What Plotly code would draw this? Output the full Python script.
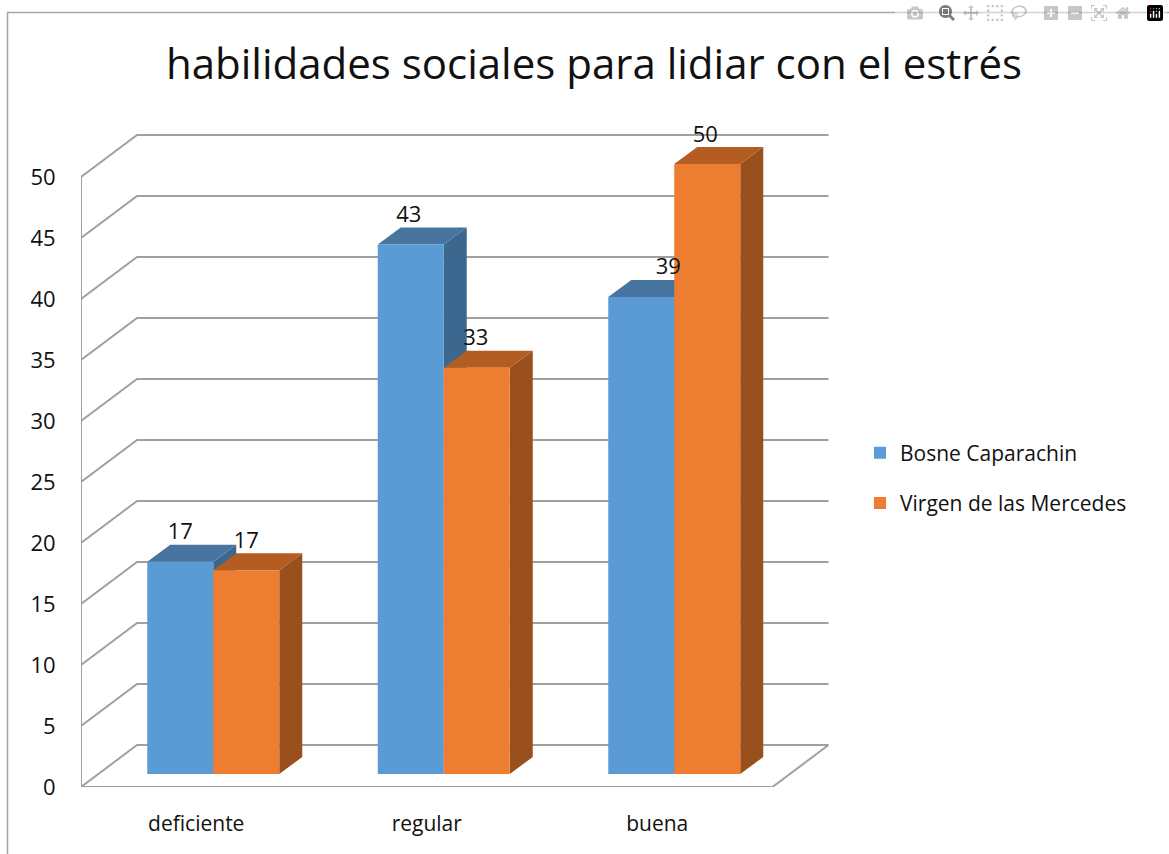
import plotly.graph_objects as go

categories = ["deficiente", "regular", "buena"]
series_names = ["Bosne Caparachin", "Virgen de las Mercedes"]
bosne_values = [17.4, 43.4, 39.1]
virgen_values = [16.7, 33.3, 50.0]
bosne_labels = ["17", "43", "39"]
virgen_labels = ["17", "33", "50"]
y_ticks = [0, 5, 10, 15, 20, 25, 30, 35, 40, 45, 50]

# geometry of the pseudo-3D box, in axis units
WIDTH, HEIGHT = 1169, 854
L, R, T, B = 81, 830, 134, 787
PX_X = 230.5   # pixels per category
PX_Y = 12.2    # pixels per value unit
X0 = -0.5
X1 = 2.5
WALL_DX = 56 / PX_X
WALL_DY = 42 / PX_Y
BAR_W = 66 / PX_X
BAR_DX = 23 / PX_X
BAR_DY = 17 / PX_Y
BAR_BASE = 13 / PX_Y
GROUP_LEFT = -0.2126
LABEL_UP = 28 / PX_Y
GRID = "#a0a0a0"
FONT = "Open Sans"
BLUE = ("#5b9bd5", "#3c6890", "#47759f")
ORANGE = ("#ed7d31", "#9a501c", "#b45d22")


def path(points):
    return "M" + "L".join(f"{x:.4f},{y:.4f}" for x, y in points) + "Z"


def seg(points):
    return "M" + "L".join(f"{x:.4f},{y:.4f}" for x, y in points)


shapes = []
for v in y_ticks:
    shapes.append(dict(type="path", xref="x", yref="y", layer="below",
                       path=seg([(X0, v), (X0 + WALL_DX, v + WALL_DY), (X1 + WALL_DX, v + WALL_DY)]),
                       line=dict(color=GRID, width=2)))
shapes.append(dict(type="path", xref="x", yref="y", layer="below",
                   path=seg([(X0, y_ticks[-1]), (X0, 0), (X1, 0), (X1 + WALL_DX, WALL_DY)]),
                   line=dict(color=GRID, width=2)))


def faces(lefts, values, cols):
    for xl, v in zip(lefts, values):
        xr = xl + BAR_W
        top = BAR_BASE + v
        shapes.append(dict(type="path", xref="x", yref="y", layer="below", line=dict(width=0), fillcolor=cols[1],
                           path=path([(xr, BAR_BASE), (xr + BAR_DX, BAR_BASE + BAR_DY),
                                      (xr + BAR_DX, top + BAR_DY), (xr, top)])))
        shapes.append(dict(type="path", xref="x", yref="y", layer="below", line=dict(width=0), fillcolor=cols[2],
                           path=path([(xl, top), (xl + BAR_DX, top + BAR_DY),
                                      (xr + BAR_DX, top + BAR_DY), (xr, top)])))


bosne_left = [i + GROUP_LEFT for i in range(3)]
virgen_left = [x + BAR_W for x in bosne_left]
faces(bosne_left, bosne_values, BLUE)
faces(virgen_left, virgen_values, ORANGE)

# outer chart frame, open at the right and bottom page edges
shapes.append(dict(type="rect", xref="paper", yref="paper",
                   x0=(7.5 - L) / (R - L), x1=(1300 - L) / (R - L),
                   y0=(B - 1000) / (B - T), y1=(B - 12.5) / (B - T),
                   line=dict(color="#a6a6a6", width=1.5), layer="below"))

fig = go.Figure()
fig.add_bar(name=series_names[0], x=[x + BAR_W / 2 for x in bosne_left], y=bosne_values, base=BAR_BASE,
            width=BAR_W, marker=dict(color=BLUE[0], line=dict(width=0)), legendgroup="a")
fig.add_bar(name=series_names[1], x=[x + BAR_W / 2 for x in virgen_left], y=virgen_values, base=BAR_BASE,
            width=BAR_W, marker=dict(color=ORANGE[0], line=dict(width=0)), legendgroup="b")

label_shift_x = [0, 0, -2 / PX_X, -1 / PX_X, 27 / PX_X, -2 / PX_X]
label_x = []
label_y = []
label_t = []
for i in range(3):
    label_x += [bosne_left[i] + BAR_W / 2, virgen_left[i] + BAR_W / 2]
    label_y += [bosne_values[i] + BAR_BASE + LABEL_UP, virgen_values[i] + BAR_BASE + LABEL_UP]
    label_t += [bosne_labels[i], virgen_labels[i]]
fig.add_scatter(x=[a + b for a, b in zip(label_x, label_shift_x)], y=label_y, text=label_t, mode="text",
                textposition="middle center", textfont=dict(family=FONT, size=22, color="#111111"),
                showlegend=False, cliponaxis=False, hoverinfo="skip")

fig.update_layout(
    width=WIDTH, height=HEIGHT, autosize=False,
    margin=dict(l=L, r=WIDTH - R, t=T, b=HEIGHT - B, pad=0),
    paper_bgcolor="white", plot_bgcolor="white",
    barmode="overlay", shapes=shapes,
    font=dict(family=FONT, color="#111111"),
    title=dict(text="habilidades sociales para lidiar con el estrés",
               x=594 / WIDTH, xanchor="center", xref="container",
               y=1 - 64 / HEIGHT, yanchor="middle", yref="container",
               font=dict(family=FONT, size=42, color="#111111")),
    legend=dict(x=(860 - L) / (R - L), xanchor="left", y=(B - 478) / (B - T), yanchor="middle",
                font=dict(family=FONT, size=21, color="#111111"), tracegroupgap=20,
                traceorder="grouped", bgcolor="rgba(0,0,0,0)"),
    xaxis=dict(range=[X0 + (L - L) / PX_X, X0 + (R - L) / PX_X], tickmode="array", tickvals=[0, 1, 2],
               ticktext=categories, showgrid=False, zeroline=False, showline=False,
               ticks="outside", ticklen=18, tickcolor="rgba(0,0,0,0)",
               tickfont=dict(family=FONT, size=21, color="#111111")),
    yaxis=dict(range=[0, (B - T) / PX_Y], tickmode="array", tickvals=y_ticks,
               showgrid=False, zeroline=False, showline=False,
               ticks="outside", ticklen=20, tickcolor="rgba(0,0,0,0)",
               tickfont=dict(family=FONT, size=22, color="#111111")),
)

fig.write_html("out.html", post_script="document.body.style.margin='0';")
